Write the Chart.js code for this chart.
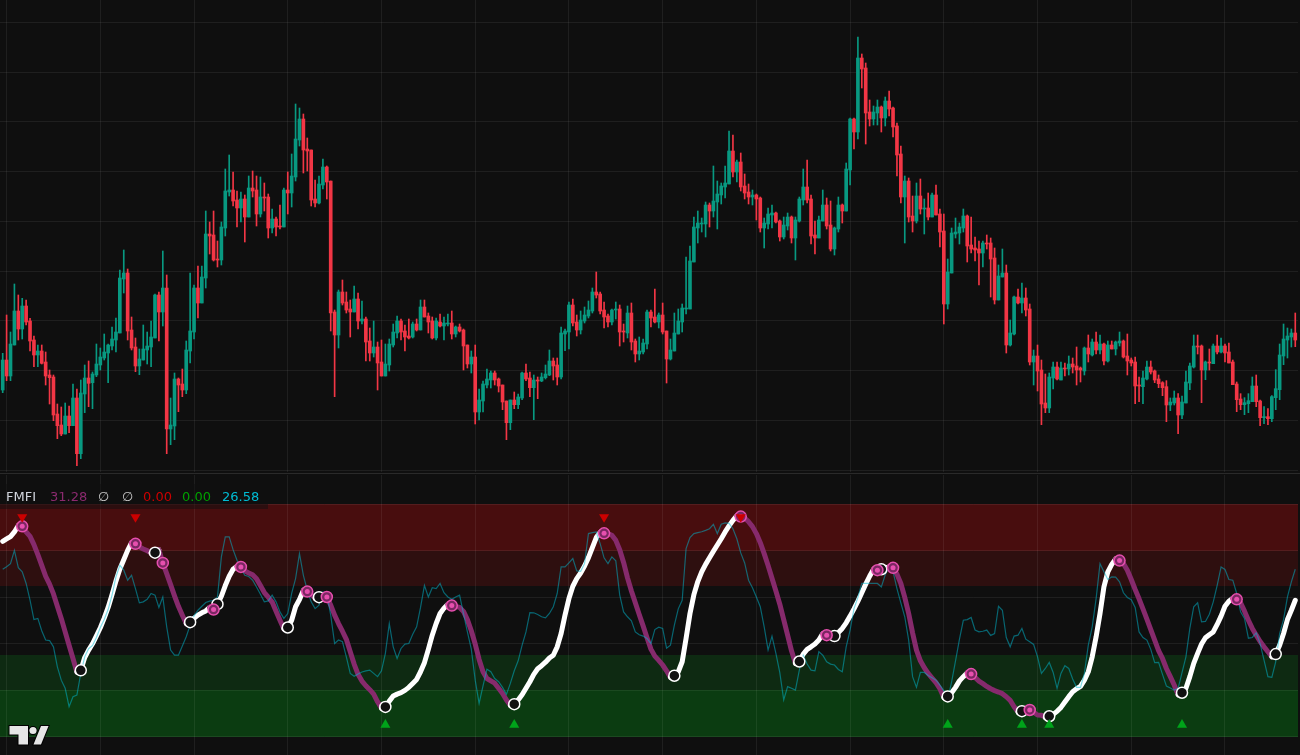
<!DOCTYPE html>
<html>
<head>
<meta charset="utf-8">
<title>FMFI</title>
<script src="https://cdn.jsdelivr.net/npm/chart.js@4.4.1/dist/chart.umd.min.js"></script>
<style>
  body { margin: 0; background: #0f0f0f; }
  #wrap { position: relative; width: 1300px; height: 755px; overflow: hidden; background: #0f0f0f; }
  canvas { position: absolute; left: 0; }
  #sep { position: absolute; left: 0; top: 473px; width: 1300px; height: 1px; background: #2a2a2a; }
  #legend { position: absolute; left: 0; top: 484px; width: 268px; height: 25px; background: rgba(15,15,15,0.5);
            font: 13px "DejaVu Sans", sans-serif; line-height: 25px; white-space: nowrap; }
  #legend span { position: absolute; top: 0; }
</style>
</head>
<body>
<div id="wrap">
  <canvas id="price" width="1300" height="472" style="top:0"></canvas>
  <div id="sep"></div>
  <canvas id="osc" width="1300" height="280" style="top:475px"></canvas>
  <div id="legend">
    <span style="left:6px;color:#d1d4dc">FMFI</span>
    <span style="left:50px;color:#8b2a6f">31.28</span>
    <span style="left:98px;color:#c8c8c8">∅</span>
    <span style="left:122px;color:#c8c8c8">∅</span>
    <span style="left:143px;color:#cc0000">0.00</span>
    <span style="left:182px;color:#00a000">0.00</span>
    <span style="left:222px;color:#00bcd4">26.58</span>
  </div>
</div>
<script>
//DATA - candles (bar index = position)
const opens = [
  33.0,42.0,37.2,46.5,56.7,51.3,58.2,53.7,48.0,43.5,
  44.7,41.4,37.5,36.9,25.8,22.5,19.8,25.2,22.3,30.6,
  13.9,31.8,36.6,35.2,37.5,40.5,42.6,44.1,46.2,48.0,
  50.1,66.3,68.1,51.0,45.9,40.2,42.0,45.0,45.9,48.6,
  61.5,56.4,63.6,21.3,22.2,36.3,34.8,33.0,44.7,50.4,
  63.6,59.1,66.6,79.8,79.5,72.3,72.0,81.6,92.4,93.0,
  90.0,87.6,90.3,84.9,93.6,93.0,85.8,90.9,90.9,81.6,
  84.3,82.2,81.9,93.0,92.1,96.9,108.0,114.3,105.3,105.0,
  90.3,89.1,94.5,99.9,95.7,56.4,49.5,62.4,59.4,57.3,
  56.4,60.3,53.7,54.3,47.7,44.1,45.9,41.4,37.2,40.5,
  46.5,50.1,53.7,50.7,49.2,48.9,52.8,51.0,57.9,55.2,
  53.7,48.6,53.4,52.2,52.8,53.1,49.8,51.9,51.0,46.5,
  40.8,42.9,26.4,29.7,34.5,36.0,38.1,36.3,34.5,29.7,
  23.2,30.0,28.6,30.6,38.1,36.6,33.7,36.0,35.7,36.7,
  37.5,41.7,40.5,36.9,49.8,50.4,58.5,53.4,51.0,53.7,
  55.2,56.7,62.4,61.8,57.0,55.2,53.4,57.0,57.3,50.7,
  50.1,56.1,47.7,43.8,44.4,46.8,56.4,54.9,53.4,55.5,
  50.7,42.3,44.7,49.8,53.4,57.3,57.3,71.4,81.6,82.8,
  82.8,88.5,86.7,89.4,91.5,93.9,94.8,104.7,98.4,101.4,
  94.2,92.4,90.9,91.5,90.6,81.6,82.8,85.5,86.1,83.7,
  78.9,82.2,84.9,78.6,83.7,90.0,93.9,90.3,79.5,78.6,
  83.7,88.5,82.5,75.3,81.3,88.5,86.7,99.0,114.3,110.4,
  132.6,129.6,116.4,114.3,116.1,117.9,114.6,119.7,117.6,112.2,
  103.8,90.9,95.7,85.2,83.7,91.2,87.3,87.6,84.9,91.5,
  85.8,80.7,58.8,68.1,79.8,80.1,81.6,85.2,76.5,75.6,
  75.3,74.1,77.1,77.1,72.6,60.0,66.9,68.1,46.5,49.8,
  60.9,59.1,60.6,57.3,41.4,43.2,39.0,29.1,27.6,36.6,
  39.9,36.0,39.6,39.3,40.8,40.2,39.6,38.7,45.6,43.5,
  47.4,45.0,46.8,41.7,46.5,45.3,47.1,47.7,43.2,42.0,
  41.4,34.5,34.0,36.3,39.9,38.7,36.3,35.2,34.0,28.5,
  29.1,30.6,25.5,29.1,35.1,39.9,46.2,46.2,39.0,41.4,
  40.9,46.2,44.4,46.2,44.4,41.4,34.8,30.3,28.6,28.9,
  29.5,34.2,29.7,24.7,25.0,24.4,30.7,33.1,43.2,48.0,
  48.9,50.1
];
const highs = [
  44.0,55.5,50.4,64.8,61.5,60.5,60.0,54.5,49.2,46.5,
  46.5,44.4,39.0,37.5,28.8,27.9,29.1,28.2,34.8,33.3,
  36.0,40.5,41.7,38.4,46.8,45.6,49.8,46.8,51.9,54.6,
  69.0,75.0,69.3,54.9,48.6,45.3,52.5,50.4,53.7,61.8,
  62.4,74.7,67.5,30.6,38.1,36.6,39.3,47.7,68.1,64.5,
  70.2,70.2,86.7,83.4,86.7,77.7,83.4,99.3,103.5,98.4,
  92.7,92.4,91.5,97.2,98.7,97.2,96.9,95.1,91.8,87.3,
  84.9,88.5,93.6,98.4,103.8,118.8,117.6,115.8,108.6,105.0,
  96.0,97.2,102.3,100.2,95.7,57.0,63.0,66.0,62.4,60.0,
  64.2,62.1,59.7,54.9,51.6,53.7,47.4,48.0,46.8,48.3,
  52.8,55.2,54.3,52.5,54.3,53.4,54.3,60.0,60.0,56.1,
  54.9,54.6,55.8,54.9,55.8,56.7,52.2,52.8,51.3,46.5,
  44.7,46.5,33.3,35.7,39.3,38.7,38.7,36.6,34.5,29.7,
  30.0,32.4,31.8,38.4,40.8,38.4,37.5,36.9,38.1,40.5,
  45.0,42.6,42.6,51.9,51.3,59.4,60.3,55.5,56.7,57.9,
  59.7,63.6,68.4,62.4,59.4,55.8,57.3,59.4,58.5,52.8,
  58.2,59.1,48.3,48.9,48.3,57.0,57.0,63.3,56.1,59.1,
  50.7,48.3,56.1,57.3,58.8,72.9,76.2,84.9,86.7,84.6,
  89.4,89.1,100.2,95.7,95.1,100.2,110.7,109.5,102.0,104.1,
  97.8,94.8,93.0,91.8,90.9,84.6,87.6,88.5,86.4,84.0,
  84.9,86.1,85.2,84.9,90.9,99.3,102.0,91.5,83.7,85.2,
  93.0,90.6,89.7,81.9,90.9,88.8,101.1,114.6,114.6,138.9,
  133.8,131.1,120.0,118.2,120.0,118.2,120.9,122.7,117.9,113.1,
  106.2,97.2,96.6,91.2,95.1,96.3,90.3,92.1,92.1,94.5,
  87.3,85.8,72.3,81.6,84.6,83.1,87.3,85.5,84.9,78.9,
  77.7,77.7,79.5,78.6,75.6,70.5,75.3,70.5,54.0,61.2,
  63.3,65.1,63.6,58.8,45.0,46.5,42.0,37.8,38.1,41.4,
  41.4,41.4,41.1,43.2,42.6,45.9,39.9,45.9,49.5,48.3,
  50.4,49.5,47.1,47.7,47.7,47.7,50.4,48.0,49.8,42.6,
  42.9,36.9,38.7,41.7,41.7,39.0,37.5,35.5,35.8,30.6,
  32.7,31.9,31.2,38.7,41.1,49.5,49.5,46.5,41.7,45.3,
  46.8,49.5,48.6,46.8,47.1,42.0,35.4,31.9,30.7,31.9,
  36.9,37.5,30.0,28.0,27.4,31.3,39.1,46.8,52.8,51.6,
  51.3,56.1
];
const lows = [
  32.2,35.8,35.8,46.5,48.0,48.3,52.5,44.7,40.0,40.0,
  40.8,34.5,28.8,23.8,18.4,19.3,19.8,20.2,22.3,10.3,
  12.4,26.2,28.0,27.4,37.0,39.0,42.0,35.2,45.0,44.4,
  50.1,62.1,48.0,45.0,38.5,37.6,42.0,40.8,40.0,48.6,
  47.7,52.2,13.9,16.6,18.1,26.5,31.0,31.9,41.1,48.3,
  54.6,59.1,63.6,73.8,71.7,69.9,70.5,79.2,91.2,88.2,
  81.9,83.4,77.4,84.9,90.9,82.2,84.9,86.7,78.6,80.1,
  79.2,81.3,81.9,85.8,87.9,95.7,106.2,98.1,98.7,88.2,
  87.9,88.8,93.3,90.3,50.7,31.0,45.6,58.5,56.1,48.9,
  56.4,51.3,52.8,41.7,41.7,42.9,33.0,37.2,37.2,38.7,
  45.9,48.6,48.0,44.7,48.3,48.6,50.7,51.0,54.9,50.1,
  48.3,48.0,51.9,48.0,52.2,48.3,48.9,50.4,39.0,39.6,
  38.1,22.8,24.0,26.4,33.6,33.6,34.5,32.4,27.1,18.1,
  21.1,27.4,27.4,30.1,35.8,31.0,24.1,30.4,35.5,36.3,
  37.3,36.0,34.5,36.3,44.8,45.3,52.2,49.2,49.8,53.1,
  54.6,56.1,60.6,55.8,51.6,51.9,52.5,54.3,46.2,47.4,
  48.6,45.0,41.4,42.0,43.8,45.3,51.9,53.1,51.6,49.8,
  35.1,42.0,44.7,49.8,50.4,55.8,57.3,71.4,77.1,80.4,
  78.9,81.9,84.9,81.3,88.8,90.6,94.8,96.9,95.4,92.7,
  90.3,88.8,88.5,84.0,80.4,75.6,81.3,81.6,83.1,77.7,
  78.3,81.0,77.1,72.0,83.4,88.5,89.1,76.8,73.8,78.6,
  83.7,81.3,74.7,73.5,80.4,83.1,86.7,94.5,105.3,108.3,
  123.6,106.8,112.2,112.5,112.5,110.4,112.2,115.2,108.9,97.2,
  89.1,77.1,83.4,80.4,83.1,85.8,79.8,84.0,84.9,85.5,
  75.9,52.8,57.3,68.1,78.6,76.8,80.4,71.4,74.1,71.7,
  64.5,69.9,75.3,60.9,58.8,60.0,66.9,44.1,46.2,49.5,
  58.8,56.1,55.2,40.5,34.5,32.7,22.6,26.2,26.2,33.3,
  36.0,36.0,37.2,37.5,38.1,34.5,35.4,37.5,41.4,43.2,
  43.8,43.8,40.5,41.4,45.3,43.5,46.2,42.6,37.5,40.2,
  28.9,29.5,28.9,36.0,37.8,35.2,33.7,31.3,23.5,26.8,
  28.5,19.9,24.4,29.1,33.1,39.6,43.8,29.2,36.1,39.0,
  40.9,43.8,44.1,41.4,41.1,34.6,26.5,27.1,25.6,26.2,
  29.5,28.0,22.3,22.9,22.6,23.5,27.1,30.1,40.6,42.6,
  45.9,46.0
];
const closes = [
  42.0,37.2,46.8,56.7,51.3,58.2,53.4,47.7,43.5,44.7,
  41.0,37.2,36.7,25.5,22.3,19.8,25.2,22.3,30.6,13.9,
  32.1,36.6,35.0,37.8,40.8,42.9,44.4,46.5,48.3,50.4,
  66.6,68.1,50.7,45.6,40.2,42.3,45.3,46.2,48.9,61.5,
  56.4,63.6,21.3,22.5,36.3,34.5,33.0,45.0,50.7,63.6,
  59.1,66.9,79.8,79.2,72.0,72.0,81.9,92.7,93.0,89.7,
  87.6,90.3,84.9,93.6,92.7,85.8,90.9,90.6,81.6,84.3,
  81.9,81.9,93.0,92.1,97.2,108.3,114.3,105.0,104.7,90.0,
  89.1,94.8,99.9,95.4,56.1,49.5,62.4,59.1,57.0,56.4,
  60.3,53.7,54.3,47.4,44.1,45.9,41.1,37.2,40.8,46.8,
  50.4,53.7,50.4,48.9,48.6,52.8,51.0,57.9,54.9,53.4,
  48.6,53.7,52.2,53.1,53.1,49.8,51.9,50.7,46.2,40.8,
  42.9,26.4,30.0,34.8,36.3,38.1,36.0,34.2,29.4,23.2,
  30.0,28.6,30.9,38.1,36.3,33.7,36.0,35.7,36.9,37.8,
  41.7,40.2,36.9,50.1,50.7,58.5,53.1,51.0,54.0,55.5,
  57.0,62.4,61.5,56.7,54.9,53.4,57.0,57.3,50.4,50.4,
  56.1,47.4,43.8,44.7,47.1,56.4,54.6,53.4,55.5,50.4,
  42.3,45.0,50.1,53.7,57.6,57.6,71.7,81.9,83.1,83.1,
  88.5,86.7,89.7,91.8,94.2,95.1,104.7,98.4,101.4,93.9,
  92.1,90.9,91.5,90.3,81.6,83.1,85.8,86.1,83.4,78.9,
  82.5,84.9,78.6,84.0,90.3,93.9,90.0,79.2,78.6,84.0,
  88.5,82.2,75.3,81.6,88.5,86.7,99.3,114.3,110.4,132.6,
  129.3,116.1,114.3,116.4,117.9,114.6,119.7,117.3,111.9,103.5,
  90.9,95.7,84.9,83.7,91.2,87.3,87.6,84.9,91.5,85.5,
  80.4,58.8,68.4,80.1,80.4,81.9,85.2,76.2,75.3,75.0,
  74.1,77.1,76.8,72.3,60.0,67.2,68.1,46.5,50.1,60.9,
  59.1,60.6,57.0,41.4,43.2,38.7,28.8,27.6,36.9,39.9,
  36.3,39.6,39.3,40.8,39.9,39.0,39.0,45.6,43.8,47.4,
  45.0,46.8,41.7,46.5,45.3,47.4,47.7,42.9,41.7,41.1,
  34.2,34.2,36.6,39.9,38.4,36.0,34.9,33.7,28.5,29.4,
  30.6,25.5,29.4,35.4,40.2,46.2,45.9,39.0,41.4,41.1,
  46.2,44.4,46.2,44.1,41.1,34.6,30.1,28.6,29.2,29.8,
  34.2,29.5,24.7,25.0,24.4,31.0,33.4,43.5,48.3,49.2,
  50.1,48.0
];

//DATA - FMFI smoothed line
const fmfi = [
  84.0,85.0,86.0,88.0,90.8,90.4,88.0,86.1,82.6,78.3,
  73.7,69.0,65.6,61.4,56.1,50.9,45.1,39.4,33.7,27.9,
  28.6,34.1,37.3,40.0,43.4,46.9,51.0,55.6,61.1,66.9,
  72.1,76.1,80.1,83.4,82.9,81.6,80.7,80.0,78.9,79.1,
  80.4,74.7,70.1,65.4,60.6,56.1,52.3,48.7,49.3,51.0,
  52.3,53.3,54.1,55.6,54.7,57.0,60.4,65.0,69.0,72.0,
  73.3,73.0,71.3,70.4,69.6,67.9,65.0,62.0,60.0,57.9,
  54.0,50.1,46.4,47.0,50.1,55.9,59.0,63.0,62.4,61.1,
  59.6,60.0,60.7,60.1,56.6,52.3,48.7,45.4,41.9,36.6,
  31.3,26.9,24.0,22.0,20.3,18.4,15.1,12.3,12.9,15.4,
  17.6,18.4,19.0,20.0,21.3,23.0,24.7,28.0,31.9,37.6,
  43.7,48.7,53.0,55.3,57.0,56.4,56.1,55.6,53.9,50.4,
  45.6,39.9,33.3,28.0,25.1,24.1,23.1,20.9,18.7,15.9,
  13.6,14.1,15.9,18.1,20.9,23.7,26.9,29.3,30.6,32.1,
  33.9,35.1,38.7,44.4,52.3,59.4,64.7,68.0,70.4,73.4,
  77.0,81.3,85.6,87.9,87.4,87.3,86.6,84.4,80.4,74.9,
  68.3,62.7,57.6,52.6,47.7,42.6,37.7,34.7,32.9,30.9,
  28.4,25.6,26.3,28.0,32.3,42.3,53.0,61.1,66.7,70.9,
  74.1,76.9,79.7,82.4,85.1,88.0,90.6,93.0,95.0,94.6,
  93.9,92.4,90.3,87.3,83.4,78.7,73.6,68.1,62.7,57.0,
  50.4,43.7,37.0,31.6,32.4,35.6,37.6,38.7,39.9,41.6,
  44.4,43.7,43.0,43.3,44.9,46.6,49.0,51.9,55.0,58.3,
  61.9,65.6,69.0,72.0,71.6,72.0,72.6,73.0,72.6,69.9,
  65.9,59.9,53.0,44.7,37.3,32.7,29.7,27.3,25.3,23.3,
  20.7,16.9,17.4,19.0,21.3,24.1,25.9,27.6,27.0,25.6,
  24.0,22.9,21.7,20.7,19.9,19.3,18.6,17.3,15.7,13.0,
  10.7,11.1,12.1,11.6,10.6,9.4,9.3,8.4,8.9,9.7,
  11.0,12.7,15.0,17.3,19.4,20.7,21.7,24.4,28.0,34.4,
  43.0,53.0,64.4,70.9,74.1,76.4,75.7,74.4,71.6,67.6,
  63.3,59.3,55.0,50.6,46.1,41.6,37.1,33.7,29.4,25.9,
  22.3,18.1,19.0,20.9,25.9,31.6,35.9,39.9,42.6,43.9,
  45.1,48.3,51.9,56.1,58.3,59.6,59.1,57.6,54.0,50.1,
  46.6,43.7,41.0,38.7,36.6,34.4,35.6,39.4,44.4,50.4,
  54.4,58.7
];

//DATA - raw money flow (thin cyan line)
const rawFlow = [
  72.0,73.1,74.4,80.1,72.7,70.9,65.9,58.7,50.4,50.9,
  45.6,41.6,41.4,38.7,30.1,24.4,20.9,13.0,17.3,18.0,
  27.3,34.4,37.9,39.3,42.7,47.0,50.4,54.7,60.9,68.7,
  73.7,71.6,67.3,69.4,63.7,57.6,58.0,59.1,61.6,60.9,
  55.6,60.1,47.3,37.3,35.1,35.1,39.1,43.0,48.0,52.0,
  54.4,56.1,57.7,58.3,58.7,60.1,77.3,85.9,85.9,80.4,
  75.9,72.3,69.4,68.9,67.3,64.4,61.3,58.0,58.4,60.9,
  58.0,53.7,50.9,53.0,61.6,68.0,78.7,69.4,63.0,58.0,
  55.1,56.6,62.3,61.3,52.3,40.1,41.6,40.9,34.4,27.3,
  26.1,27.0,27.9,28.4,28.7,27.3,25.9,28.4,35.9,48.7,
  38.7,33.7,38.0,39.9,40.1,44.1,47.3,55.6,65.1,60.1,
  64.1,63.7,65.9,61.9,60.1,59.1,60.1,60.9,53.0,45.1,
  37.7,24.4,14.4,21.9,29.1,28.0,25.1,23.7,21.3,18.3,
  23.0,28.4,32.7,39.3,45.1,53.4,53.3,52.6,51.6,51.1,
  53.0,55.9,61.6,73.0,73.0,74.7,76.6,71.3,71.1,74.4,
  87.3,87.7,88.0,83.0,76.9,74.4,77.3,75.6,61.0,53.7,
  51.6,49.9,45.1,43.9,43.3,42.3,40.1,46.1,47.1,46.6,
  38.1,39.4,48.0,55.0,58.7,80.9,85.6,87.3,87.7,88.1,
  88.7,89.4,91.3,87.3,91.3,91.9,91.7,89.4,85.1,79.0,
  74.7,67.3,64.1,60.1,55.9,47.3,37.3,43.3,35.9,27.6,
  15.9,21.6,20.9,20.1,28.7,35.1,31.3,28.7,28.4,36.6,
  35.1,32.3,31.3,30.9,29.0,28.0,38.7,45.9,55.1,59.9,
  65.9,65.9,65.9,65.9,65.9,64.4,69.6,73.0,71.0,63.7,
  57.6,51.6,41.6,25.9,21.3,27.7,27.7,26.4,25.4,24.4,
  22.3,19.9,16.1,23.7,32.7,41.9,50.1,50.4,51.3,45.9,
  45.1,45.4,45.9,43.6,44.4,56.1,54.4,42.7,38.7,43.3,
  43.7,46.6,42.0,40.9,39.7,34.4,27.3,29.4,32.0,27.7,
  20.9,27.3,30.6,29.4,24.9,21.3,21.3,27.3,39.4,47.3,
  59.4,74.4,70.9,67.6,68.7,68.6,66.6,61.9,59.9,58.9,
  55.6,45.1,42.7,41.6,37.6,31.9,32.0,26.9,21.9,21.0,
  20.1,20.9,27.6,34.4,46.6,55.9,57.6,49.4,49.6,52.7,
  58.0,65.1,73.0,71.9,67.6,67.3,61.6,53.7,50.9,42.4,
  42.7,44.7,40.1,33.0,25.9,25.6,32.3,44.4,50.4,60.1,
  66.6,72.0
];

//AXES / LEVELS
const timeTicks = [1, 25, 49, 73, 97, 121, 145, 169, 193, 217, 241, 265, 289, 313];
const priceTicks = [8.93, 23.86, 38.79, 53.72, 68.65, 83.58, 98.51, 113.44, 128.37, 143.3];
const oscTicks = [0, 20, 40, 60, 80, 100];
const overbought = 80, oversold = 20;
const sellMarkLevel = 94.4, buyMarkLevel = 5.2;

//COLORS
const UP = '#089981', DOWN = '#f23645';
const GRID = 'rgba(255,255,255,0.065)';
const RISE = '#ffffff', FALL = '#862a6c', PINK = '#e64fae';

const xMin = -0.69, xMax = 331.7;
const idx = closes.map((c, i) => i);
const candleColors = closes.map((c, i) => c >= opens[i] ? UP : DOWN);

function hiddenAxis(ticks, min, max) {
  return {
    type: 'linear', min: min, max: max, offset: false,
    grid: { color: GRID, drawTicks: false, lineWidth: 1, offset: false },
    border: { display: false },
    ticks: { display: false },
    afterBuildTicks: (axis) => { axis.ticks = ticks.map(v => ({ value: v })); }
  };
}

// PRICE PANE
new Chart(document.getElementById('price').getContext('2d'), {
  type: 'bar',
  data: {
    datasets: [
      {
        label: 'body',
        data: idx.map(i => ({ x: i, y: [opens[i], closes[i]] })),
        backgroundColor: candleColors,
        barThickness: 3,
        minBarLength: 1,
        grouped: false,
        order: 0
      },
      {
        label: 'wick',
        data: idx.map(i => ({ x: i, y: [lows[i], highs[i]] })),
        backgroundColor: candleColors,
        barThickness: 1,
        grouped: false,
        order: 1
      }
    ]
  },
  options: {
    responsive: false,
    animation: false,
    events: [],
    layout: { autoPadding: false, padding: { right: 2 } },
    plugins: { legend: { display: false }, tooltip: { enabled: false } },
    scales: {
      x: hiddenAxis(timeTicks, xMin, xMax),
      y: hiddenAxis(priceTicks, 8.4, 150)
    }
  }
});

// TURNING POINTS
const turnUp = [], turnDown = [];
for (let i = 2; i < fmfi.length; i++) {
  const before = fmfi[i - 1] - fmfi[i - 2];
  const now = fmfi[i] - fmfi[i - 1];
  if (before <= 0 && now > 0) turnUp.push({ x: i, y: fmfi[i] });
  if (before >= 0 && now < 0) turnDown.push({ x: i, y: fmfi[i] });
}
const buyMarks = turnUp.filter(p => p.y < oversold).map(p => ({ x: p.x, y: buyMarkLevel }));
const sellMarks = turnDown.filter(p => p.y > overbought).map(p => ({ x: p.x, y: sellMarkLevel }));

// ZONES behind the oscillator
const zones = [
  { from: 80, to: 100, color: '#480d0e' },
  { from: 65, to: 80, color: '#2e0f0f' },
  { from: 20, to: 35, color: '#0e2a12' },
  { from: 0, to: 20, color: '#0b3c11' }
];
const zonePlugin = {
  id: 'zones',
  beforeDraw(chart) {
    const { ctx, chartArea, scales } = chart;
    ctx.save();
    zones.forEach(z => {
      const top = Math.round(scales.y.getPixelForValue(z.to));
      const bottom = Math.round(scales.y.getPixelForValue(z.from));
      ctx.fillStyle = z.color;
      ctx.fillRect(chartArea.left, top, chartArea.right - chartArea.left, bottom - top);
    });
    ctx.restore();
  }
};

// little logo in the corner
const logoPlugin = {
  id: 'logo',
  afterDraw(chart) {
    const ctx = chart.ctx;
    const oy = -475;
    ctx.save();
    ctx.fillStyle = '#e6e6e6';
    ctx.strokeStyle = '#000000';
    ctx.lineWidth = 2;
    ctx.lineJoin = 'miter';
    ctx.beginPath();
    ctx.moveTo(9.5, 726 + oy); ctx.lineTo(28, 726 + oy); ctx.lineTo(28, 744.5 + oy);
    ctx.lineTo(18.5, 744.5 + oy); ctx.lineTo(18.5, 734.5 + oy); ctx.lineTo(9.5, 734.5 + oy);
    ctx.closePath();
    ctx.stroke(); ctx.fill();
    ctx.beginPath();
    ctx.arc(33, 730.5 + oy, 3.6, 0, Math.PI * 2);
    ctx.stroke(); ctx.fill();
    ctx.beginPath();
    ctx.moveTo(33.5, 744.5 + oy); ctx.lineTo(41, 744.5 + oy); ctx.lineTo(48.5, 726 + oy); ctx.lineTo(41, 726 + oy);
    ctx.closePath();
    ctx.stroke(); ctx.fill();
    ctx.restore();
  }
};

// OSCILLATOR PANE
new Chart(document.getElementById('osc').getContext('2d'), {
  type: 'line',
  data: {
    datasets: [
      {
        label: 'sell',
        data: sellMarks,
        showLine: false,
        pointStyle: 'triangle',
        rotation: 180,
        pointRadius: 5.8,
        pointBorderWidth: 0,
        pointBackgroundColor: '#cc0000',
        order: 0
      },
      {
        label: 'buy',
        data: buyMarks,
        showLine: false,
        pointStyle: 'triangle',
        pointRadius: 5.8,
        pointBorderWidth: 0,
        pointBackgroundColor: '#00a31a',
        order: 1
      },
      {
        label: 'peak dot',
        data: turnDown,
        showLine: false,
        pointRadius: 2.5,
        pointBorderWidth: 0,
        pointBackgroundColor: PINK,
        order: 2
      },
      {
        label: 'peak',
        data: turnDown,
        showLine: false,
        pointRadius: 5.5,
        pointBorderWidth: 1.5,
        pointBorderColor: PINK,
        pointBackgroundColor: '#7a2762',
        order: 3
      },
      {
        label: 'trough',
        data: turnUp,
        showLine: false,
        pointRadius: 5.5,
        pointBorderWidth: 1.5,
        pointBorderColor: '#ffffff',
        pointBackgroundColor: '#111111',
        order: 4
      },
      {
        label: 'raw',
        data: rawFlow.map((v, i) => ({ x: i, y: v })),
        borderColor: 'rgba(0,188,212,0.5)',
        borderWidth: 1.2,
        pointRadius: 0,
        tension: 0,
        order: 5
      },
      {
        label: 'FMFI',
        data: fmfi.map((v, i) => ({ x: i, y: v })),
        borderColor: RISE,
        borderWidth: 5,
        borderCapStyle: 'round',
        borderJoinStyle: 'round',
        pointRadius: 0,
        tension: 0,
        segment: {
          borderColor: c => c.p1.parsed.y > c.p0.parsed.y ? RISE : FALL
        },
        order: 6
      }
    ]
  },
  options: {
    responsive: false,
    animation: false,
    events: [],
    layout: { autoPadding: false, padding: { right: 2 } },
    plugins: { legend: { display: false }, tooltip: { enabled: false } },
    scales: {
      x: hiddenAxis(timeTicks, xMin, xMax),
      y: hiddenAxis(oscTicks, -7.73, 112.45)
    }
  },
  plugins: [zonePlugin, logoPlugin]
});
</script>
</body>
</html>
